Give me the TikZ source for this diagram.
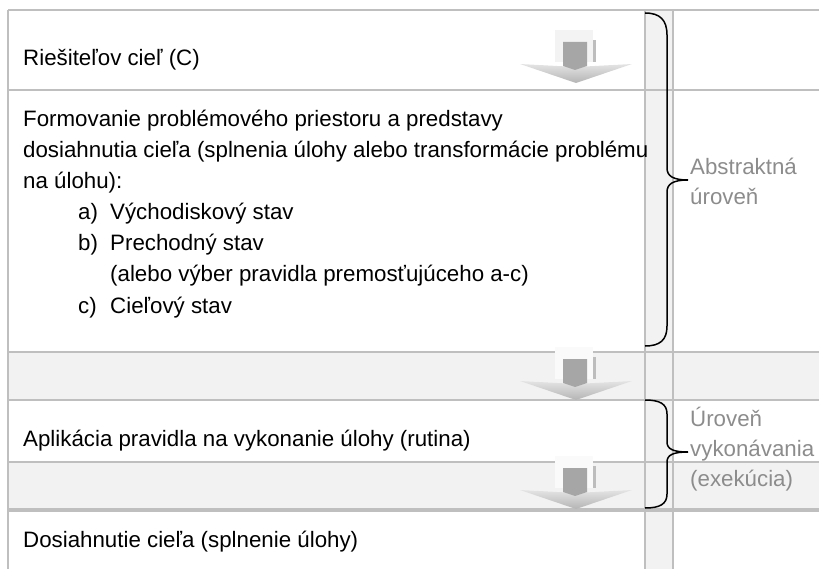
\documentclass[tikz,border=0pt]{standalone}
\usepackage{fontspec}
\setmainfont{Liberation Sans}
\definecolor{gridc}{HTML}{BFBFBF}
\definecolor{rowg}{HTML}{F2F2F2}
\definecolor{labg}{HTML}{8C8C8C}
\definecolor{pentc}{HTML}{A6A6A6}
\definecolor{barc}{HTML}{BDBDBD}
\definecolor{boxw}{HTML}{F3F3F3}
\definecolor{boxg}{HTML}{FAFAFA}
\definecolor{chevt}{HTML}{E4E4E4}
\definecolor{chevb}{HTML}{B4B4B4}
\tikzset{
  txt/.style={inner sep=0pt, anchor=base west, font=\fontsize{22.3}{31}\selectfont, text=black},
  lab/.style={txt, text=labg},
  gridline/.style={draw=gridc, line width=1.5pt},
  bracestyle/.style={draw=black, line width=1.5pt},
  pics/procarrow/.style={code={
    \fill[#1] (-21,-53) rectangle (17,-21);
    \shade[top color=chevt, bottom color=chevb] (-56,-19) -- (0,-16) -- (56,-19) -- (0,0) -- cycle;
    \fill[pentc] (-13,-41) -- (11,-41) -- (11,-17) -- (-1,-13) -- (-13,-17) -- cycle;
    \fill[barc] (17,-43) rectangle (20,-21);
  }}
}
\begin{document}
\begin{tikzpicture}[x=1pt, y=-1pt]
\useasboundingbox (0,0) rectangle (819,569);
% fills
\fill[rowg] (8,352) rectangle (819,400);
\fill[rowg] (8,462) rectangle (819,510);
\fill[rowg] (645,10) rectangle (673,569);
% grid
\foreach \yy in {10,90,352,400,462} \draw[gridline] (8,\yy) -- (819,\yy);
\draw[gridc, line width=3.5pt] (8,510) -- (819,510);
\foreach \xx in {8,645,673} \draw[gridline] (\xx,10) -- (\xx,569);
% process arrows
\pic at (576,83) {procarrow=boxw};
\pic at (576,400) {procarrow=boxg};
\pic at (576,509) {procarrow=boxg};
% braces
\coordinate (b1top) at (645,13);
\coordinate (b1tip) at (688,180);
\coordinate (b1bot) at (645,346);
\draw[bracestyle] (b1top) .. controls (660,13) and (667,20) .. (667,35) -- (667,168)
  .. controls (667,176) and (673,180) .. (b1tip)
  .. controls (673,180) and (667,184) .. (667,192) -- (667,326)
  .. controls (667,340) and (660,346) .. (b1bot);
\coordinate (b2top) at (645,400);
\coordinate (b2tip) at (688,452);
\coordinate (b2bot) at (645,508);
\draw[bracestyle] (b2top) .. controls (660,400) and (667,404) .. (667,414) -- (667,442)
  .. controls (667,449) and (673,452) .. (b2tip)
  .. controls (673,452) and (667,455) .. (667,462) -- (667,494)
  .. controls (667,504) and (660,508) .. (b2bot);
% texts
\node[txt] (r1) at (23,66) {Riešiteľov cieľ (C)};
\node[txt] (p1) at (23,127) {Formovanie problémového priestoru a predstavy};
\node[txt] (p2) at (23,158) {dosiahnutia cieľa (splnenia úlohy alebo transformácie problému};
\node[txt] (p3) at (23,189) {na úlohu):};
\node[txt] (la) at (78,220) {a)};
\node[txt] (pa) at (110,220) {Východiskový stav};
\node[txt] (lb) at (78,251) {b)};
\node[txt] (pb) at (110,251) {Prechodný stav};
\node[txt] (pb2) at (110,282) {(alebo výber pravidla premosťujúceho a-c)};
\node[txt] (lc) at (78,313) {c)};
\node[txt] (pc) at (110,313) {Cieľový stav};
\node[txt] (r3) at (23,446) {Aplikácia pravidla na vykonanie úlohy (rutina)};
\node[txt] (r5) at (23,547) {Dosiahnutie cieľa (splnenie úlohy)};
\node[lab] (l1a) at (690,175) {Abstraktná};
\node[lab] (l1b) at (690,205) {úroveň};
\node[lab] (l2a) at (690,426) {Úroveň};
\node[lab] (l2b) at (690,456) {vykonávania};
\node[lab] (l2c) at (690,486) {(exekúcia)};
\end{tikzpicture}
\end{document}
